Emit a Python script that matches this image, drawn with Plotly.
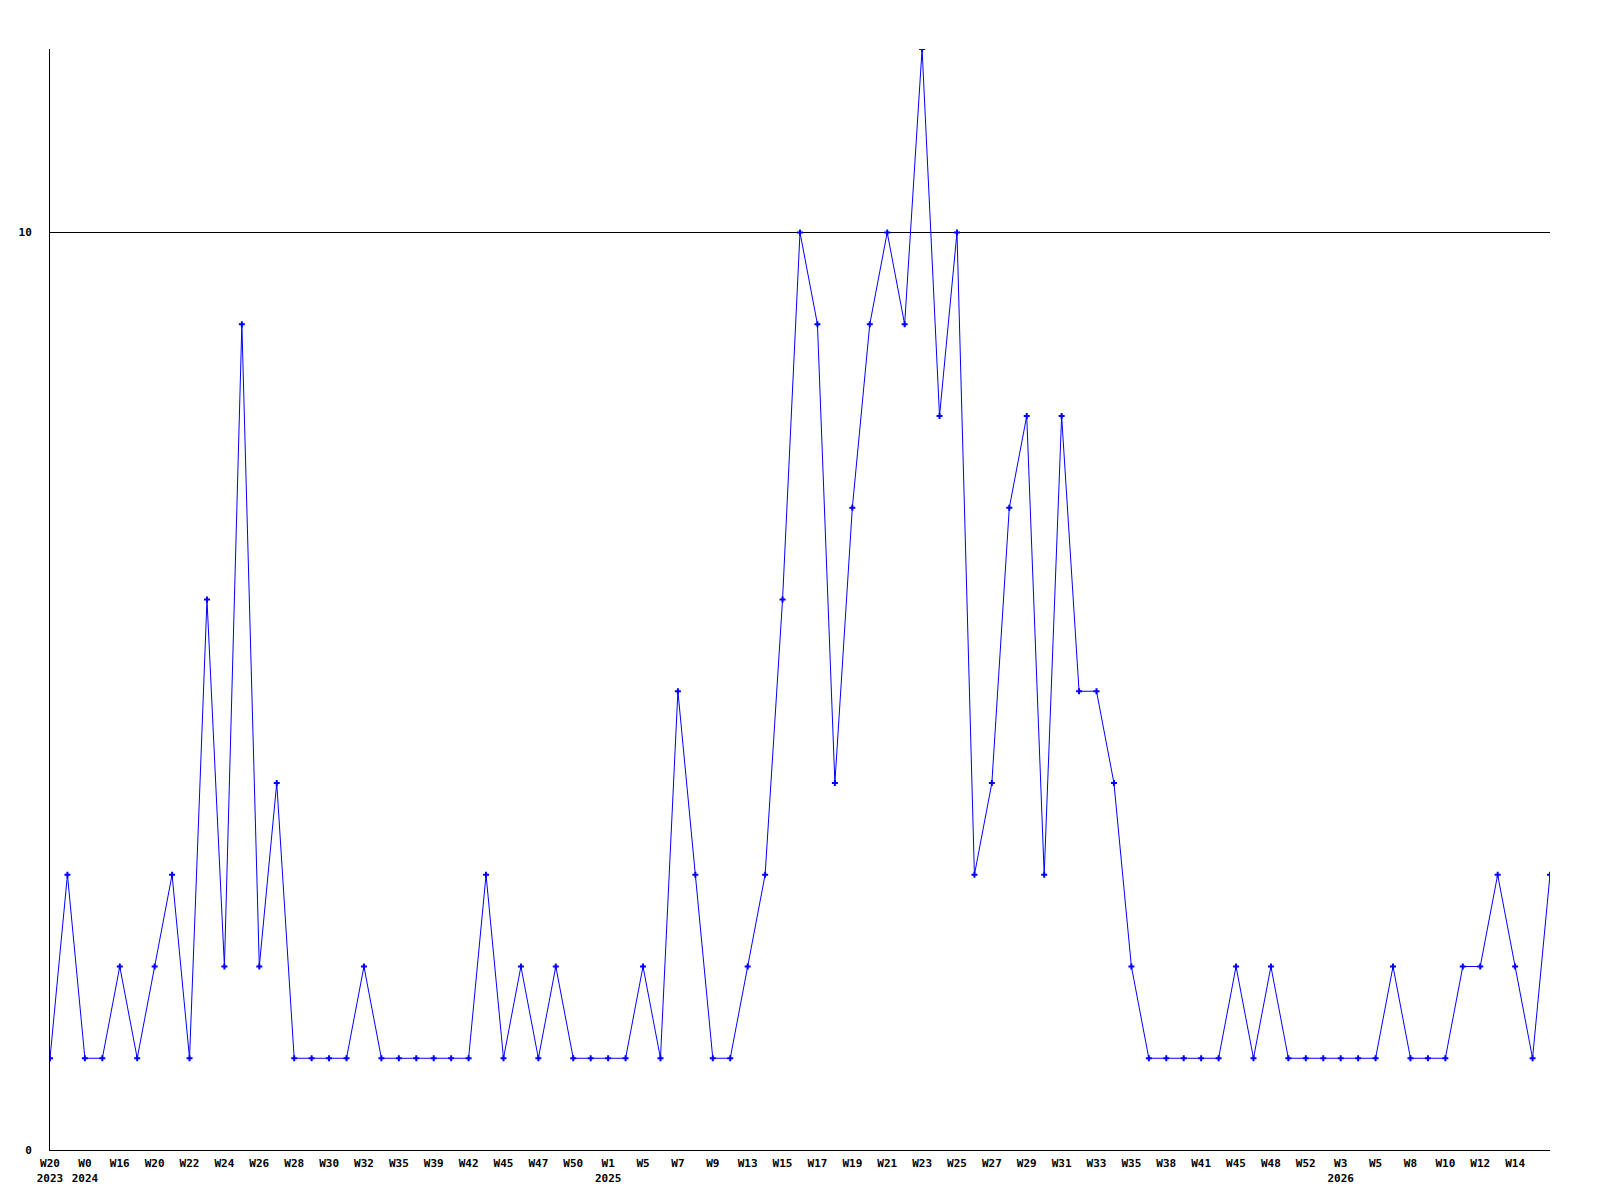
import plotly.graph_objects as go

values = [1, 3, 1, 1, 2, 1, 2, 3, 1, 6, 2, 9, 2, 4, 1, 1, 1, 1, 2, 1,
          1, 1, 1, 1, 1, 3, 1, 2, 1, 2, 1, 1, 1, 1, 2, 1, 5, 3, 1, 1,
          2, 3, 6, 10, 9, 4, 7, 9, 10, 9, 12, 8, 10, 3, 4, 7, 8, 3, 8, 5,
          5, 4, 2, 1, 1, 1, 1, 1, 2, 1, 2, 1, 1, 1, 1, 1, 1, 2, 1, 1,
          1, 2, 2, 3, 2, 1, 3]

tick_labels = ["W20<br>2023", "W0<br>2024", "W16", "W20", "W22", "W24", "W26", "W28",
               "W30", "W32", "W35", "W39", "W42", "W45", "W47", "W50", "W1<br>2025",
               "W5", "W7", "W9", "W13", "W15", "W17", "W19", "W21", "W23", "W25",
               "W27", "W29", "W31", "W33", "W35", "W38", "W41", "W45", "W48", "W52",
               "W3<br>2026", "W5", "W8", "W10", "W12", "W14"]

y_ticks = [0, 10]

x = list(range(len(values)))
tick_pos = x[::2][:len(tick_labels)]

font = dict(family="DejaVu Sans Mono", size=11, color="black", weight="bold")

fig = go.Figure()
fig.add_trace(go.Scatter(
    x=x, y=values, mode="lines+markers",
    line=dict(color="#0000ff", width=1),
    marker=dict(symbol="cross", size=5, color="#0000ff"),
    showlegend=False,
))

fig.update_layout(
    width=1600, height=1200,
    margin=dict(l=42, r=58, t=41, b=58, pad=0),
    paper_bgcolor="white", plot_bgcolor="white",
    font=font,
    xaxis=dict(
        range=[0, len(values) - 1],
        tickmode="array", tickvals=tick_pos, ticktext=tick_labels,
        showgrid=False, zeroline=False,
        showline=True, linecolor="black", linewidth=1,
        ticks="outside", ticklen=3, tickcolor="rgba(0,0,0,0)",
        tickfont=font, tickangle=0,
    ),
    yaxis=dict(
        range=[0, 12],
        tickmode="array", tickvals=y_ticks, ticktext=[str(v) for v in y_ticks],
        showgrid=True, gridcolor="black", gridwidth=1,
        zeroline=False,
        showline=True, linecolor="black", linewidth=1,
        ticks="outside", ticklen=15, tickcolor="rgba(0,0,0,0)",
        tickfont=font,
    ),
)

fig.write_html("out.html")
